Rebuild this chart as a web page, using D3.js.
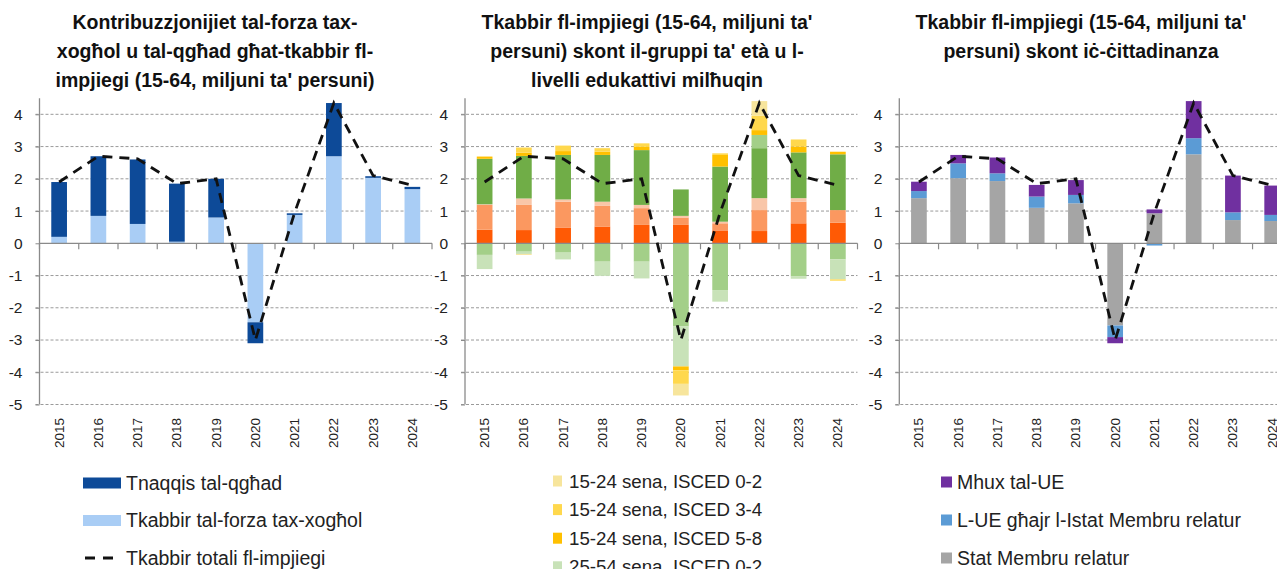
<!DOCTYPE html>
<html><head><meta charset="utf-8">
<script src="https://cdn.jsdelivr.net/npm/d3@7"></script>
<style>
html,body{margin:0;padding:0;background:#fff;}
text{font-family:"Liberation Sans",Arial,sans-serif;}
</style></head>
<body><svg id="c" width="1277" height="569"></svg>
<script>
// ---------- DATA ----------
const years = ["2015","2016","2017","2018","2019","2020","2021","2022","2023","2024"];
const yTicks = [-5,-4,-3,-2,-1,0,1,2,3,4];
const yTickLabels = ["-5","-4","-3","-2","-1","0","1","2","3","4"];
const totalGrowth = [1.9, 2.7, 2.62, 1.85, 2.0, -3.0, 0.95, 4.35, 2.1, 1.8];

// Panel 1
const p1Titles = ["Kontribuzzjonijiet tal-forza tax-","xogħol u tal-qgħad għat-tkabbir fl-","impjiegi (15-64, miljuni ta' persuni)"];
const labourForce = [0.2, 0.85, 0.6, 0.05, 0.8, -2.45, 0.88, 2.7, 2.03, 1.68];
const unempFall   = [1.7, 1.85, 2.0, 1.8, 1.2, -0.65, 0.05, 1.65, 0.05, 0.07];
const p1Names = ["Tkabbir tal-forza tax-xogħol","Tnaqqis tal-qgħad"];
const p1Colors = ["#a9cdf5","#0d4a98"];
const lineName = "Tkabbir totali fl-impjiegi";

// Panel 2
const p2Titles = ["Tkabbir fl-impjiegi (15-64, miljuni ta'","persuni) skont il-gruppi ta' età u l-","livelli edukattivi milħuqin"];
const p2Names = ["55-64 sena, ISCED 5-8","55-64 sena, ISCED 3-4","55-64 sena, ISCED 0-2",
                 "25-54 sena, ISCED 5-8","25-54 sena, ISCED 3-4","25-54 sena, ISCED 0-2",
                 "15-24 sena, ISCED 5-8","15-24 sena, ISCED 3-4","15-24 sena, ISCED 0-2"];
const a55e58 = [0.42, 0.41, 0.49, 0.52, 0.57, 0.57, 0.40, 0.38, 0.62, 0.64];
const a55e34 = [0.77, 0.78, 0.80, 0.64, 0.52, 0.23, 0.22, 0.65, 0.67, 0.39];
const a55e02 = [0.02, 0.20, 0.07, 0.13, 0.10, 0.05, 0.05, 0.37, 0.11, 0.0];
const a25e58 = [1.41, 1.32, 1.38, 1.45, 1.70, 0.82, 1.71, 1.55, 1.42, 1.73];
const a25e34 = [-0.36, -0.26, -0.29, -0.57, -0.57, -2.58, -1.45, 0.41, -1.03, -0.5];
const a25e02 = [-0.44, -0.07, -0.21, -0.44, -0.52, -1.24, -0.36, 0.0, -0.07, -0.62];
const a15e58 = [0.07, 0.10, 0.12, 0.10, 0.10, -0.12, 0.36, 0.15, 0.18, 0.08];
const a15e34 = [0.0, 0.16, 0.17, 0.11, 0.11, -0.42, 0.05, 0.45, 0.22, -0.04];
const a15e02 = [0.0, -0.03, 0.0, 0.0, 0.0, -0.36, 0.0, 0.45, 0.0, 0.0];
const p2Colors = ["#ff5a05","#fb9860","#f9c6a8","#70ad47","#a3cf88","#c8e2b8","#ffc000","#ffd84d","#f7e59c"];

// Panel 3
const p3Titles = ["Tkabbir fl-impjiegi (15-64, miljuni ta'","persuni) skont iċ-ċittadinanza"];
const p3Names = ["Stat Membru relatur","L-UE għajr l-Istat Membru relatur","Mhux tal-UE"];
const reportingMS = [1.40, 2.02, 1.93, 1.10, 1.24, -2.55, 0.93, 2.76, 0.72, 0.69];
const otherEU     = [0.22, 0.46, 0.24, 0.35, 0.26, -0.36, -0.07, 0.50, 0.24, 0.19];
const nonEU       = [0.29, 0.26, 0.49, 0.36, 0.46, -0.19, 0.12, 1.15, 1.14, 0.91];
const p3Colors = ["#a5a5a5","#5b9bd5","#7030a0"];

// ---------- DRAW ----------
const svg = d3.select("#c");
const y = d3.scaleLinear().domain([-5, 4.5]).range([404.5, 98.2]);
const plotW = 392.5;

function panel(cfg){
  const g = svg.append("g");
  const x = d3.scaleBand().domain(years).range([cfg.x0, cfg.x0 + plotW]).paddingInner(0.6).paddingOuter(0.3);
  const xb = d3.scaleBand().domain(years).range([cfg.x0, cfg.x0 + plotW]);
  // gridlines
  g.append("g").selectAll("line").data(yTicks.filter(d => d !== 0)).join("line")
    .attr("x1", cfg.x0 - 4).attr("x2", cfg.x0 + plotW)
    .attr("y1", d => y(d)).attr("y2", d => y(d))
    .attr("stroke", "#9a9a9a").attr("stroke-width", 1).attr("stroke-dasharray", "3,2");
  // y axis
  const ya = g.append("g").attr("transform", `translate(${cfg.x0},0)`)
    .call(d3.axisLeft(y).tickValues(yTicks).tickSize(4).tickPadding(13).tickFormat((d, i) => yTickLabels[i]));
  ya.select(".domain").attr("stroke", "#8a8a8a").attr("stroke-width", 1.3).attr("d", `M-0,${y(4.5)}V${y(-5)}`);
  ya.selectAll(".tick line").attr("stroke", "#8a8a8a");
  ya.selectAll(".tick text").attr("font-size", 15.5).attr("fill", "#222").attr("font-family", "Liberation Sans, Arial, sans-serif");
  // stacked bars
  const rows = years.map((yr, i) => { const o = {year: yr}; cfg.series.forEach((s, k) => o[k] = s[i]); return o; });
  const stack = d3.stack().keys(cfg.series.map((s, k) => k)).offset(d3.stackOffsetDiverging)(rows);
  g.append("g").selectAll("g").data(stack).join("g").attr("fill", (d, k) => cfg.colors[k])
    .selectAll("rect").data(d => d).join("rect")
    .attr("x", d => x(d.data.year)).attr("width", x.bandwidth())
    .attr("y", d => y(Math.max(d[0], d[1]))).attr("height", d => Math.abs(y(d[0]) - y(d[1])));
  // x axis at zero
  const xa = g.append("g").attr("transform", `translate(0,${y(0)})`)
    .call(d3.axisBottom(xb).tickSize(0).tickFormat(""));
  xa.select(".domain").attr("stroke", "#8a8a8a").attr("stroke-width", 1.3).attr("d", `M${cfg.x0},0H${cfg.x0 + plotW}`);
  xa.selectAll(".tick").remove();
  xa.selectAll(".bnd").data(d3.range(0, 11)).join("line")
    .attr("x1", k => cfg.x0 + k * xb.step()).attr("x2", k => cfg.x0 + k * xb.step())
    .attr("y1", 0).attr("y2", 6).attr("stroke", "#8a8a8a").attr("stroke-width", 1.2);
  // year labels
  g.append("g").selectAll("text").data(years).join("text")
    .attr("transform", d => `translate(${xb(d) + xb.bandwidth() / 2 + 4.5},418) rotate(-90)`)
    .attr("text-anchor", "end").attr("font-size", 13.5).attr("fill", "#222").text(d => d);
  // total line
  g.append("path").datum(totalGrowth)
    .attr("d", d3.line().x((d, i) => xb(years[i]) + xb.bandwidth() / 2).y(d => y(d)))
    .attr("fill", "none").attr("stroke", "#111").attr("stroke-width", 2.8).attr("stroke-dasharray", "10,7");
  // title
  g.append("g").selectAll("text").data(cfg.titles).join("text")
    .attr("x", cfg.tx).attr("y", (d, i) => 29 + i * 28.8)
    .attr("text-anchor", "middle").attr("font-weight", "bold").attr("font-size", 19.5).attr("fill", "#111")
    .text(d => d);
  // legend
  const lg = g.append("g");
  cfg.legend.forEach((it, i) => {
    const cy = cfg.ly + i * cfg.lstep;
    if (it.line) {
      lg.append("line").attr("x1", cfg.sx).attr("x2", cfg.sx + cfg.sw).attr("y1", cy).attr("y2", cy)
        .attr("stroke", "#111").attr("stroke-width", 2.8).attr("stroke-dasharray", "10,8").attr("stroke-dashoffset", -2);
    } else {
      lg.append("rect").attr("x", cfg.sx).attr("y", cy - 5.5).attr("width", cfg.sw).attr("height", 11).attr("fill", it.color);
    }
    lg.append("text").attr("x", cfg.tx2).attr("y", cy + 6.5).attr("font-size", cfg.lfs).attr("fill", "#222").text(it.name);
  });
}

panel({x0: 39.5, tx: 215, titles: p1Titles, series: [labourForce, unempFall], colors: p1Colors,
  legend: [{name: p1Names[1], color: p1Colors[1]}, {name: p1Names[0], color: p1Colors[0]}, {name: lineName, line: true}],
  ly: 483, lstep: 37.5, sx: 83, sw: 38, tx2: 126, lfs: 19.5});
// only the legend rows that fit inside the picture are shown (the rest fall below its lower edge)
panel({x0: 465, tx: 647, titles: p2Titles,
  series: [a55e58, a55e34, a55e02, a25e58, a25e34, a25e02, a15e58, a15e34, a15e02], colors: p2Colors,
  legend: p2Names.map((n, k) => ({name: n, color: p2Colors[k]})).reverse().slice(0, 4),
  ly: 481, lstep: 28.6, sx: 553, sw: 9, tx2: 569, lfs: 18.7});
panel({x0: 899.3, tx: 1081, titles: p3Titles, series: [reportingMS, otherEU, nonEU], colors: p3Colors,
  legend: p3Names.map((n, k) => ({name: n, color: p3Colors[k]})).reverse(),
  ly: 482, lstep: 38, sx: 941, sw: 11, tx2: 957, lfs: 19.5});
</script></body></html>
